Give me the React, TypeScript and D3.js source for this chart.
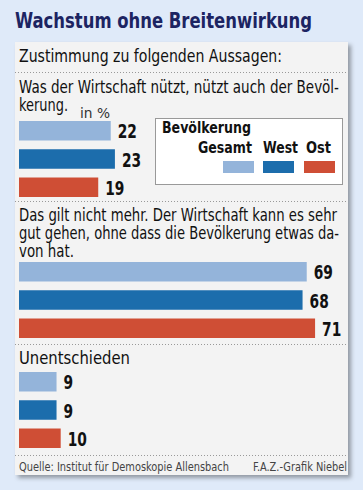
import React from "react";
import { scaleLinear, scaleBand } from "d3";

const series = ["Gesamt", "West", "Ost"];
const colors = ["#94b4da", "#1c6dac", "#cf4e35"];
const questions = [
  ["Was der Wirtschaft nützt, nützt auch der Bevöl-", "kerung."],
  [
    "Das gilt nicht mehr. Der Wirtschaft kann es sehr",
    "gut gehen, ohne dass die Bevölkerung etwas da-",
    "von hat.",
  ],
  ["Unentschieden"],
];
// widths of each text line as measured on the original
const lineWidths = [
  [320, 49],
  [318, 320, 55],
  [111],
];
const values = [
  [22, 23, 19],
  [69, 68, 71],
  [9, 9, 10],
];

const W = 363;
const H = 490;
const font = "'DejaVu Sans', sans-serif";

function T(props: any) {
  const { w, children, ...rest } = props;
  return (
    <text
      fontFamily={font}
      style={{ fontStretch: "condensed" }}
      textLength={w}
      lengthAdjust="spacingAndGlyphs"
      {...rest}
    >
      {children}
    </text>
  );
}

function App() {
  const x = scaleLinear().domain([0, 100]).range([19, 436]);
  const textTops = [93, 221, 364];
  const barTops = [121, 262, 372];
  const dotted = [72, 201, 344, 455];

  return (
    <svg width={W} height={H} style={{ position: "absolute", left: 0, top: 0 }}>
      <defs>
        <filter id="shadow" x="-5%" y="-5%" width="115%" height="115%">
          <feDropShadow dx="3" dy="3" stdDeviation="2" floodColor="#000" floodOpacity="0.35" />
        </filter>
      </defs>
      <rect width={W} height={H} fill="#dfeaf9" />
      <T x={15} y={28} w={297} fontWeight="bold" fontSize={21} fill="#1c2462">
        Wachstum ohne Breitenwirkung
      </T>
      <rect x={15} y={42} width={333} height={433} fill="#f3f3f3" filter="url(#shadow)" />
      <T x={19} y={62} w={263} fontSize={17} fill="#111">
        Zustimmung zu folgenden Aussagen:
      </T>
      {dotted.map((y, i) => (
        <line key={i} x1={15} x2={348} y1={y + 0.5} y2={y + 0.5} stroke="#999" strokeWidth={1} strokeDasharray="1,2" />
      ))}

      {questions.map((lines, qi) => {
        const y = scaleBand()
          .domain(series)
          .range([barTops[qi], barTops[qi] + 76])
          .paddingInner(0.31);
        return (
          <g key={qi}>
            {lines.map((l, li) => (
              <T key={li} x={19} y={textTops[qi] + li * 18} w={lineWidths[qi][li]} fontSize={17} fill="#111">
                {l}
              </T>
            ))}
            {series.map((s, si) => {
              const v = values[qi][si];
              return (
                <g key={s}>
                  <rect x={x(0)} y={y(s)} width={x(v) - x(0)} height={y.bandwidth()} fill={colors[si]} />
                  <T
                    x={x(v) + 7}
                    y={(y(s) as number) + y.bandwidth() - 2}
                    w={String(v).length * 9.6}
                    fontWeight="bold"
                    fontSize={19}
                    fill="#111"
                  >
                    {v}
                  </T>
                </g>
              );
            })}
          </g>
        );
      })}

      <T x={80} y={118} w={30} fontSize={14} fill="#333">
        in %
      </T>

      {/* legend */}
      <rect x={155.5} y={118.5} width={187} height={66} fill="#fff" stroke="#999" strokeWidth={1} />
      <T x={162} y={133} w={89} fontWeight="bold" fontSize={16} fill="#111">
        Bevölkerung
      </T>
      {series.map((s, i) => {
        const starts = [198, 263, 306];
        const widths = [54, 35, 25];
        const sx = [223, 263, 304];
        return (
          <g key={s}>
            <T x={starts[i]} y={153} w={widths[i]} fontWeight="bold" fontSize={16} fill="#111">
              {s}
            </T>
            <rect x={sx[i]} y={161} width={31} height={12} fill={colors[i]} />
          </g>
        );
      })}

      <T x={19} y={471} w={210} fontSize={12.5} fill="#444">
        Quelle: Institut für Demoskopie Allensbach
      </T>
      <T x={253} y={471} w={94} fontSize={12.5} fill="#444">
        F.A.Z.-Grafik Niebel
      </T>
    </svg>
  );
}

export default App;
